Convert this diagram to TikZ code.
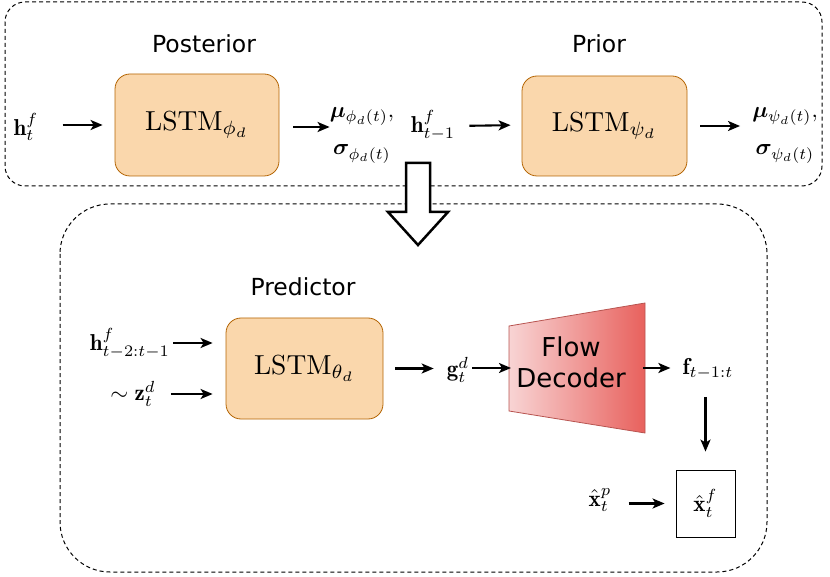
\documentclass[tikz,border=0pt]{standalone}
\usepackage{amsmath,bm,graphicx}
\usepackage{fontspec}
\newfontfamily\dejavu{DejaVu Sans}
\usetikzlibrary{arrows.meta,calc}
\definecolor{lstmfill}{HTML}{FAD7AC}
\definecolor{lstmdraw}{HTML}{B46504}
\definecolor{decleft}{HTML}{F8D4D4}
\definecolor{decright}{HTML}{E8615D}
\definecolor{decdraw}{HTML}{B85450}
\newcommand\mysc[1]{\scalebox{2.3}{#1}}
\newcommand\mybig[1]{\scalebox{2.75}{#1}}
\newcommand\mytwo[2]{\scalebox{2.25}{\begin{tabular}{@{}c@{}}#1\\[4.5pt]#2\end{tabular}}}
\begin{document}
\begin{tikzpicture}[x=1pt,y=-1pt,
  lstm/.style={draw=lstmdraw, fill=lstmfill, rounded corners=15pt, minimum width=164pt, minimum height=102pt, line width=0.8pt},
  lbl/.style={inner sep=0pt},
  outlbl/.style={inner sep=0pt},
  ttl/.style={font=\dejavu\fontsize{23.5}{28}\selectfont},
  arr/.style={-{Stealth[length=12pt,width=10pt,inset=3pt]}, line width=2.1pt},
  frame/.style={dash pattern=on 4pt off 3pt, line width=1pt}]
\useasboundingbox (0,0) rectangle (830,577);

% frames
\draw[frame, rounded corners=20pt] (5,2) rectangle (822,186);
\draw[frame, rounded corners=50pt] (60,204) rectangle (767,572);

% hollow arrow
\draw[line width=2.5pt, fill=white, line join=miter]
  (406,163) -- (430,163) -- (430,212) -- (448,212) -- (418,245) -- (388,212) -- (406,212) -- cycle;

% top row
\node[ttl] (tpost) at (204,44) {Posterior};
\node[ttl] (tprior) at (599,44) {Prior};
\node[lstm] (post) at (197,125) {\mybig{$\mathrm{LSTM}_{\phi_d}$}};
\node[lstm, minimum width=165pt, minimum height=100pt] (prior) at (604.5,126) {\mybig{$\mathrm{LSTM}_{\psi_d}$}};
\node[lbl] (hf) at (26,127) {\mysc{$\mathbf{h}_t^f$}};
\node[outlbl] (postout) at (362,131) {\mytwo{$\boldsymbol\mu_{\phi_d(t)},$}{$\boldsymbol\sigma_{\phi_d(t)}$}};
\node[lbl] (hprev) at (433,125) {\mysc{$\mathbf{h}_{t-1}^f$}};
\node[outlbl] (priorout) at (785,131) {\mytwo{$\boldsymbol\mu_{\psi_d(t)},$}{$\boldsymbol\sigma_{\psi_d(t)}$}};

\draw[arr, shorten <=24pt, shorten >=12pt] (hf.east |- post.west) -- (post.west);
\draw[arr, shorten <=14pt] ([yshift=-2pt]post.east) -- ([yshift=-2pt]post.east -| postout.west);
\draw[arr, shorten <=14pt, shorten >=11pt] (hprev.east |- prior.west) -- ([yshift=1pt]prior.west);
\draw[arr, shorten <=13pt, shorten >=12pt] (prior.east) -- (prior.east -| priorout.west);

% bottom
\node[ttl] (tpred) at (303,287) {Predictor};
\node[lstm, minimum width=157pt, minimum height=101pt] (pred) at (304.5,368.5) {\mybig{$\mathrm{LSTM}_{\theta_d}$}};
\node[lbl] (hpast) at (130,343) {\mysc{$\mathbf{h}_{t-2:t-1}^f$}};
\node[lbl] (z) at (133,394) {\mysc{$\sim\mathbf{z}_t^d$}};
\node[lbl] (g) at (458,370) {\mysc{$\mathbf{g}_t^d$}};

\shade[left color=decleft, right color=decright] (509,326) -- (645,303) -- (645,433) -- (509,411) -- cycle;
\draw[draw=decdraw, line width=0.8pt] (509,326) -- (645,303) -- (645,433) -- (509,411) -- cycle;
\node[font=\dejavu\fontsize{26}{31}\selectfont, align=center] (dec) at (571,362) {Flow\\Decoder};
\coordinate (decin) at (511,368);
\coordinate (decout) at (643,368);

\node[lbl] (fl) at (708,369) {\mysc{$\mathbf{f}_{t-1:t}$}};
\node[draw, minimum width=59pt, minimum height=67pt, line width=0.8pt] (xf) at (705.5,503.5) {\mysc{$\hat{\mathbf{x}}_t^f$}};
\node[lbl] (xp) at (600,500) {\mysc{$\hat{\mathbf{x}}_t^p$}};

\draw[arr, shorten <=3pt, shorten >=13pt] (hpast.east) -- (hpast.east -| pred.west);
\draw[arr, shorten <=15pt, shorten >=13pt] (z.east) -- (z.east -| pred.west);
\draw[arr, shorten <=12pt, shorten >=13pt] (pred.east) -- (pred.east -| g.west);
\draw[arr, shorten <=3pt] (g.east |- decin) -- (decin);
\draw[arr, shorten >=12pt] (decout) -- (decout -| fl.west);
\draw[arr, shorten <=17pt, shorten >=18pt] (fl.south -| xf.north) -- (xf.north);
\draw[arr, shorten <=17pt, shorten >=11pt] (xp.east |- xf.west) -- (xf.west);
\end{tikzpicture}
\end{document}
